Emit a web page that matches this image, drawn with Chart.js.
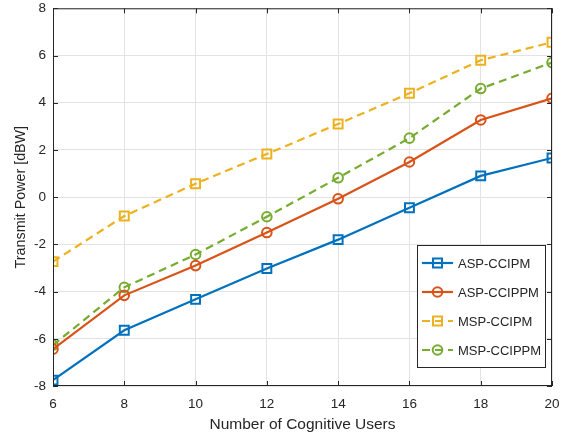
<!DOCTYPE html>
<html><head><meta charset="utf-8">
<script src="https://cdn.jsdelivr.net/npm/chart.js@4/dist/chart.umd.min.js"></script>
<style>html,body{margin:0;padding:0;background:#fff;}#wrap{width:566px;height:437px;position:relative;}</style>
</head><body><div id="wrap"><canvas id="c" width="566" height="437"></canvas></div>
<script>
const users = [6, 8, 10, 12, 14, 16, 18, 20];
const aspCCIPM  = [-7.75, -5.64, -4.33, -3.02, -1.80, -0.45, 0.90, 1.66];
const aspCCIPPM = [-6.44, -4.16, -2.90, -1.50, -0.07, 1.49, 3.27, 4.19];
const mspCCIPM  = [-2.73, -0.80, 0.57, 1.83, 3.10, 4.40, 5.80, 6.56];
const mspCCIPPM = [-6.27, -3.82, -2.43, -0.83, 0.82, 2.50, 4.60, 5.70];
const xTicks = [6, 8, 10, 12, 14, 16, 18, 20];
const yTicks = [-8, -6, -4, -2, 0, 2, 4, 6, 8];
const seriesNames = ['ASP-CCIPM', 'ASP-CCIPPM', 'MSP-CCIPM', 'MSP-CCIPPM'];

const FONT = 'Liberation Sans, Arial, sans-serif';
const TXT = '#262626';
const AX = '#262626';

function pts(arr){ return users.map((u,i)=>({x:u, y:arr[i]})); }
function ds(label, data, color, dashed, style){
  return {label, data: pts(data), borderColor: color, backgroundColor: 'transparent',
    borderWidth: 2.2, borderDash: dashed ? [8,5] : [], pointStyle: style,
    pointRadius: style === 'rect' ? 6.3 : 4.8, pointBorderWidth: 2, pointBorderColor: color,
    pointBackgroundColor: 'transparent', tension: 0, fill: false};
}

const boxPlugin = {
  id: 'box',
  afterDraw(chart){
    const {ctx, chartArea: a, scales} = chart;
    ctx.save();
    ctx.strokeStyle = AX; ctx.lineWidth = 1;
    ctx.strokeRect(a.left+0.5, a.top+0.5, a.right-a.left-1, a.bottom-a.top-1);
    ctx.beginPath();
    xTicks.forEach(v=>{ const x = Math.round(scales.x.getPixelForValue(v))+0.5;
      ctx.moveTo(x, a.bottom); ctx.lineTo(x, a.bottom-5);
      ctx.moveTo(x, a.top); ctx.lineTo(x, a.top+5); });
    yTicks.forEach(v=>{ const y = Math.round(scales.y.getPixelForValue(v))+0.5;
      ctx.moveTo(a.left, y); ctx.lineTo(a.left+5, y);
      ctx.moveTo(a.right, y); ctx.lineTo(a.right-5, y); });
    ctx.stroke();
    const lx = 417, ly = 245, lw = 128, lh = 122;
    ctx.fillStyle = '#fff'; ctx.fillRect(lx, ly, lw, lh);
    ctx.strokeStyle = '#262626'; ctx.lineWidth = 1;
    ctx.strokeRect(lx+0.5, ly+0.5, lw, lh);
    chart.data.datasets.forEach((d,i)=>{
      const y = 263 + i*29;
      ctx.strokeStyle = d.borderColor; ctx.lineWidth = 2.2;
      ctx.setLineDash(d.borderDash.length ? [8,5] : []);
      ctx.beginPath(); ctx.moveTo(422, y); ctx.lineTo(453, y); ctx.stroke();
      ctx.setLineDash([]); ctx.lineWidth = 2;
      ctx.beginPath();
      if (d.pointStyle === 'rect') ctx.rect(437.5-4.5, y-4.5, 9, 9);
      else ctx.arc(437.5, y, 4.8, 0, Math.PI*2);
      ctx.stroke();
      ctx.fillStyle = TXT; ctx.font = '13px ' + FONT;
      ctx.textBaseline = 'middle'; ctx.textAlign = 'left';
      ctx.fillText(d.label, 458, y+1);
    });
    ctx.restore();
  }
};

new Chart(document.getElementById('c'), {
  type: 'line',
  data: { datasets: [
    ds(seriesNames[0], aspCCIPM, '#0072BD', false, 'rect'),
    ds(seriesNames[1], aspCCIPPM, '#D95319', false, 'circle'),
    ds(seriesNames[2], mspCCIPM, '#EDB120', true, 'rect'),
    ds(seriesNames[3], mspCCIPPM, '#77AC30', true, 'circle')
  ]},
  options: {
    responsive: false, animation: false,
    layout: { padding: { left: 0, right: 14, top: 7, bottom: 0 } },
    plugins: { legend: { display: false }, tooltip: { enabled: false } },
    scales: {
      x: { type: 'linear', min: 6, max: 20,
        afterBuildTicks: s => { s.ticks = xTicks.map(v=>({value:v})); },
        afterFit: s => { s.height = 51; s.paddingLeft = 0; s.paddingRight = 0; },
        grid: { color: '#e3e3e3', drawTicks: false, lineWidth: 1 },
        border: { display: false },
        ticks: { color: TXT, font: { family: FONT, size: 13.5 }, padding: 10, maxRotation: 0 },
        title: { display: true, text: 'Number of Cognitive Users', color: TXT,
          font: { family: FONT, size: 15.5 }, padding: { top: 0, bottom: 3 } } },
      y: { type: 'linear', min: -8, max: 8,
        afterBuildTicks: s => { s.ticks = yTicks.map(v=>({value:v})); },
        afterFit: s => { s.width = 53; s.paddingTop = 0; s.paddingBottom = 0; },
        grid: { color: '#e3e3e3', drawTicks: false, lineWidth: 1 },
        border: { display: false },
        ticks: { color: TXT, font: { family: FONT, size: 13.5 }, padding: 7 },
        title: { display: true, text: 'Transmit Power [dBW]', color: TXT,
          font: { family: FONT, size: 14.3 }, padding: { top: 12, bottom: 0 } } }
    }
  },
  plugins: [boxPlugin]
});
</script></body></html>
